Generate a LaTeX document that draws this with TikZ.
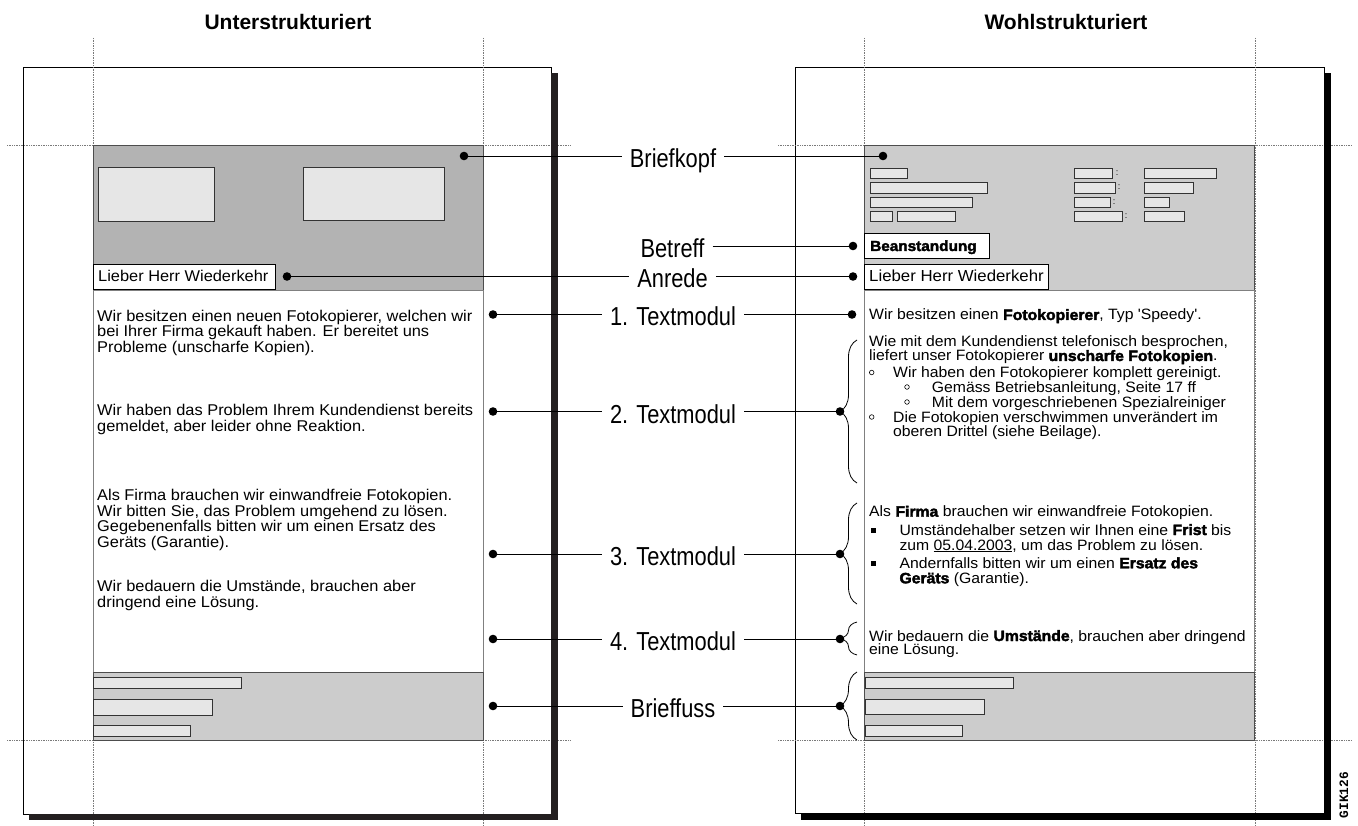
\documentclass[tikz,border=0pt]{standalone}
\usepackage{fontspec}
\setmainfont{Liberation Sans}
\newfontfamily\lblfont[FakeStretch=0.84]{Liberation Sans}
\newfontfamily\txtfont[FakeStretch=1.05,BoldFeatures={FakeBold=2.5}]{Liberation Sans}
\newfontfamily\gikfont{Liberation Mono}
\usetikzlibrary{decorations.pathreplacing}
\definecolor{hdrdark}{HTML}{B3B3B3}
\definecolor{hdrlight}{HTML}{CCCCCC}
\definecolor{fieldfill}{HTML}{E6E6E6}
\definecolor{edgegray}{HTML}{4D4D4D}
\definecolor{shadowgray}{HTML}{231F20}
\definecolor{guidegray}{HTML}{7A7A7A}
\begin{document}
\begin{tikzpicture}[x=1pt,y=-1pt,
  guideline/.style={guidegray, line width=0.7pt, densely dotted},
  pageframe/.style={draw=black, fill=white, line width=0.9pt},
  zone/.style={draw=edgegray, line width=0.8pt},
  bodyzone/.style={draw=gray, line width=0.8pt},
  field/.style={draw=black!80, fill=fieldfill, line width=0.8pt},
  namebox/.style={draw=black, fill=white, line width=0.8pt},
  dot/.style={circle, fill=black, inner sep=0pt, minimum size=8.6pt},
  conn/.style={black, line width=0.8pt},
  lbl/.style={font=\lblfont\fontsize{26}{28}\selectfont, anchor=base, inner xsep=8pt, inner ysep=0pt},
  title/.style={font=\fontsize{21}{24}\selectfont\bfseries},
  ltext/.style={font=\txtfont\fontsize{15.6}{17}\selectfont, anchor=base west, inner sep=0pt},
  rtext/.style={font=\txtfont\fontsize{15}{16}\selectfont, anchor=base west, inner sep=0pt},
  colon/.style={font=\fontsize{9}{10}\selectfont, inner sep=0pt},
  bracebar/.style={decorate, decoration={brace, amplitude=17pt}, line width=0.8pt},
  obullet/.style={draw=black, line width=0.6pt},
]
\useasboundingbox (0,0) rectangle (1358,826);
\fill[white] (0,0) rectangle (1358,826);

% titles
\node[title] (tL) at (288,22) {Unterstrukturiert};
\node[title] (tR) at (1066,22) {Wohlstrukturiert};

% pages
\draw[pageframe] (23,67.5) rectangle (551,814);
\draw[pageframe] (795,67.5) rectangle (1324,813);

% guide lines
\draw[guideline] (93,38) -- (93,826);
\draw[guideline] (483,38) -- (483,826);
\draw[guideline] (7,145) -- (570,145);
\draw[guideline] (7,740) -- (570,740);
\draw[guideline] (864,38) -- (864,826);
\draw[guideline] (1255,38) -- (1255,826);
\draw[guideline] (778,145) -- (1352,145);
\draw[guideline] (778,740) -- (1352,740);

% shadows
\fill[shadowgray] (551,73) rectangle (558,820);
\fill[shadowgray] (29,814) rectangle (558,820);
\fill[black] (1324,73) rectangle (1331,820);
\fill[black] (801,813) rectangle (1331,820);

% ---------- left page ----------
\draw[zone, fill=hdrdark] (93,145) rectangle (483,290);
\draw[field] (98,167) rectangle (214.5,221.5);
\draw[field] (303,167) rectangle (444,220.5);
\draw[namebox] (93,264) rectangle (275,289);
\node[ltext] (lname) at (98,281.5) {Lieber Herr Wiederkehr};
\draw[bodyzone] (93,290) rectangle (483,672);
\draw[zone, fill=hdrlight] (93,672) rectangle (483,740);
\draw[field] (93,677) rectangle (241.5,688);
\draw[field] (93,699) rectangle (212,715);
\draw[field] (93,725) rectangle (190,736);

\node[ltext] (lt1) at (97,321.5) {Wir besitzen einen neuen Fotokopierer, welchen wir};
\node[ltext] (lt2) at (97,337) {bei Ihrer Firma gekauft haben. Er bereitet uns};
\node[ltext] (lt3) at (97,352.5) {Probleme (unscharfe Kopien).};
\node[ltext] (lt4) at (97,415.5) {Wir haben das Problem Ihrem Kundendienst bereits};
\node[ltext] (lt5) at (97,431) {gemeldet, aber leider ohne Reaktion.};
\node[ltext] (lt6) at (97,500.5) {Als Firma brauchen wir einwandfreie Fotokopien.};
\node[ltext] (lt7) at (97,516) {Wir bitten Sie, das Problem umgehend zu lösen.};
\node[ltext] (lt8) at (97,531.5) {Gegebenenfalls bitten wir um einen Ersatz des};
\node[ltext] (lt9) at (97,547) {Geräts (Garantie).};
\node[ltext] (lt10) at (97,591.5) {Wir bedauern die Umstände, brauchen aber};
\node[ltext] (lt11) at (97,607) {dringend eine Lösung.};

% ---------- right page ----------
\draw[zone, fill=hdrlight] (864,145) rectangle (1254,290);
\draw[field] (870,168) rectangle (907,178);
\draw[field] (870,182) rectangle (987,193);
\draw[field] (870,197) rectangle (972,207);
\draw[field] (870,211) rectangle (892,221);
\draw[field] (897,211) rectangle (955,221);
\draw[field] (1074,168) rectangle (1112,178);
\draw[field] (1074,182) rectangle (1115,193);
\draw[field] (1074,197) rectangle (1110,207);
\draw[field] (1074,211) rectangle (1122,221);
\node[colon] (c1) at (1117,173) {:};
\node[colon] (c2) at (1119,187.5) {:};
\node[colon] (c3) at (1114,202) {:};
\node[colon] (c4) at (1126,216) {:};
\draw[field] (1144,168) rectangle (1216,178);
\draw[field] (1144,182) rectangle (1193,193);
\draw[field] (1144,197) rectangle (1169,207);
\draw[field] (1144,211) rectangle (1184,221);
\draw[namebox] (864,233) rectangle (989,258);
\node[rtext, font=\txtfont\fontsize{14.6}{16}\selectfont\bfseries] (rsubj) at (870,251) {Beanstandung};
\draw[namebox] (864,264) rectangle (1048,289);
\node[ltext, font=\txtfont\fontsize{16}{17}\selectfont] (rname) at (869,281.5) {Lieber Herr Wiederkehr};
\draw[bodyzone] (864,290) rectangle (1254,672);
\draw[zone, fill=hdrlight] (864,672) rectangle (1254,740);
\draw[field] (865,677) rectangle (1013.5,688);
\draw[field] (865,699) rectangle (984,714);
\draw[field] (865,725) rectangle (962,736);

\node[rtext] (rt1) at (869,320) {Wir besitzen einen \textbf{Fotokopierer}, Typ 'Speedy'.};
\node[rtext] (rt2) at (869,347) {Wie mit dem Kundendienst telefonisch besprochen,};
\node[rtext] (rt3) at (869,361) {liefert unser Fotokopierer \textbf{unscharfe Fotokopien}.};
\draw[obullet] (871.7,372.5) circle (2.3);
\node[rtext] (rt4) at (893,377.5) {Wir haben den Fotokopierer komplett gereinigt.};
\draw[obullet] (907,387) circle (2.3);
\node[rtext] (rt5) at (931.7,392) {Gemäss Betriebsanleitung, Seite 17 ff};
\draw[obullet] (907,402) circle (2.3);
\node[rtext] (rt6) at (931.7,407) {Mit dem vorgeschriebenen Spezialreiniger};
\draw[obullet] (871.7,417) circle (2.3);
\node[rtext] (rt7) at (893,422) {Die Fotokopien verschwimmen unverändert im};
\node[rtext] (rt8) at (893,436) {oberen Drittel (siehe Beilage).};
\node[rtext] (rt9) at (869,516.7) {Als \textbf{Firma} brauchen wir einwandfreie Fotokopien.};
\fill[black] (870.8,527.5) rectangle (875.8,532.5);
\node[rtext] (rt10) at (899.3,535) {Umständehalber setzen wir Ihnen eine \textbf{Frist} bis};
\node[rtext] (rt11) at (899.3,550) {zum \underline{05.04.2003}, um das Problem zu lösen.};
\fill[black] (870.8,560.8) rectangle (875.8,565.8);
\node[rtext] (rt12) at (899.3,568.3) {Andernfalls bitten wir um einen \textbf{Ersatz des}};
\node[rtext] (rt13) at (899.3,583.3) {\textbf{Geräts} (Garantie).};
\node[rtext] (rt14) at (869,641) {Wir bedauern die \textbf{Umstände}, brauchen aber dringend};
\node[rtext] (rt15) at (869,654.3) {eine Lösung.};

% braces
\draw[bracebar] (857,483) -- (857,340);
\draw[bracebar] (857,604) -- (857,503);
\draw[bracebar] (857,655) -- (857,622);
\draw[bracebar] (857,740) -- (857,672);

% GIK label
\node[rotate=90, font=\gikfont\bfseries\fontsize{12.8}{14}\selectfont] (gik) at (1344,795) {GIK126};

% ---------- dots ----------
\node[dot] (dBkL) at (464,156) {};
\node[dot] (dBkR) at (883,156) {};
\node[dot] (dBtR) at (853,246) {};
\node[dot] (dAnL) at (287,276.5) {};
\node[dot] (dAnR) at (853,276.5) {};
\node[dot] (dT1L) at (493,314.5) {};
\node[dot] (dT1R) at (852,314.5) {};
\node[dot] (dT2L) at (493,411.5) {};
\node[dot] (dT2R) at (840,411.5) {};
\node[dot] (dT3L) at (493,554) {};
\node[dot] (dT3R) at (840,554) {};
\node[dot] (dT4L) at (493,639) {};
\node[dot] (dT4R) at (840,639) {};
\node[dot] (dBfL) at (493,706) {};
\node[dot] (dBfR) at (840,706) {};

% ---------- labels ----------
\node[lbl] (lBk) at (673,167.5) {Briefkopf};
\node[lbl] (lBt) at (672.5,257.5) {Betreff};
\node[lbl] (lAn) at (672.5,288) {Anrede};
\node[lbl] (lT1) at (673,326) {1. Textmodul};
\node[lbl] (lT2) at (673,423) {2. Textmodul};
\node[lbl] (lT3) at (673,565.5) {3. Textmodul};
\node[lbl] (lT4) at (673,650.5) {4. Textmodul};
\node[lbl] (lBf) at (673,717.5) {Brieffuss};

% ---------- connectors ----------
\draw[conn] (dBkL.center) -- (lBk.west |- dBkL.center);
\draw[conn] (lBk.east |- dBkR.center) -- (dBkR.center);
\draw[conn] (lBt.east |- dBtR.center) -- (dBtR.center);
\draw[conn] (dAnL.center) -- (lAn.west |- dAnL.center);
\draw[conn] (lAn.east |- dAnR.center) -- (dAnR.center);
\draw[conn] (dT1L.center) -- (lT1.west |- dT1L.center);
\draw[conn] (lT1.east |- dT1R.center) -- (dT1R.center);
\draw[conn] (dT2L.center) -- (lT2.west |- dT2L.center);
\draw[conn] (lT2.east |- dT2R.center) -- (dT2R.center);
\draw[conn] (dT3L.center) -- (lT3.west |- dT3L.center);
\draw[conn] (lT3.east |- dT3R.center) -- (dT3R.center);
\draw[conn] (dT4L.center) -- (lT4.west |- dT4L.center);
\draw[conn] (lT4.east |- dT4R.center) -- (dT4R.center);
\draw[conn] (dBfL.center) -- (lBf.west |- dBfL.center);
\draw[conn] (lBf.east |- dBfR.center) -- (dBfR.center);
\end{tikzpicture}
\end{document}
